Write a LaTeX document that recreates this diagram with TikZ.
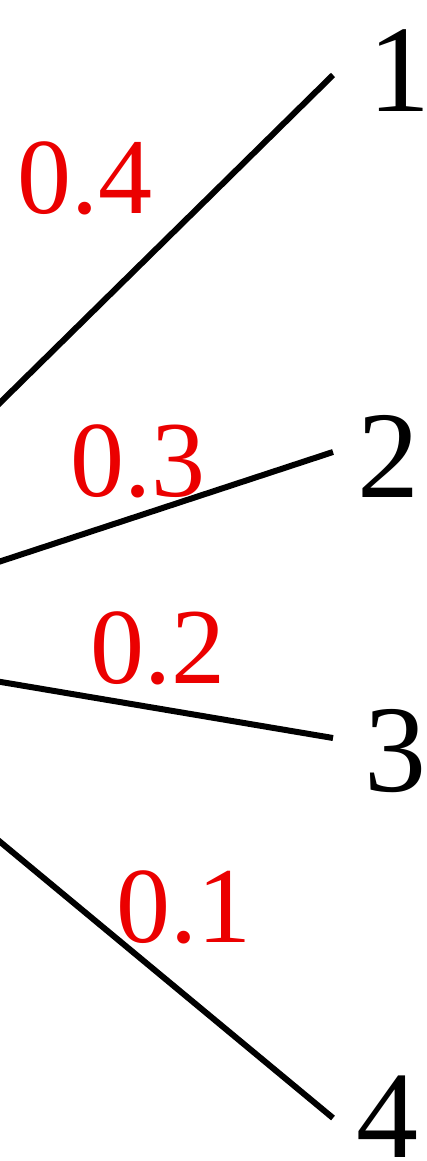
\documentclass[tikz,border=0pt]{standalone}
\usepackage{fontspec}
\setmainfont{Liberation Serif}
\definecolor{problabel}{RGB}{235,0,0}
\begin{document}
\begin{tikzpicture}[x=1pt,y=-1pt,
  branch/.style={line width=6pt,black},
  outcome/.style={anchor=base,inner sep=0pt,font=\fontsize{124}{124}\selectfont},
  prob/.style={anchor=base,inner sep=0pt,text=problabel,font=\fontsize{108}{108}\selectfont}]
\useasboundingbox (0,0) rectangle (427,1161);
\clip (0,0) rectangle (427,1161);
\fill[white] (0,0) rectangle (427,1161);
\coordinate (root) at (-242,641);
\coordinate (e1) at (333,75);
\coordinate (e2) at (333,452);
\coordinate (e3) at (333,738);
\coordinate (e4) at (333,1118);
\draw[branch] (root) -- (e1);
\draw[branch] (root) -- (e2);
\draw[branch] (root) -- (e3);
\draw[branch] (root) -- (e4);
\node[outcome] (n1) at (399,112) {1};
\node[outcome] (n2) at (388,497) {2};
\node[outcome] (n3) at (395,791) {3};
\node[outcome] (n4) at (387,1157) {4};
\node[prob] (p1) at (85,213) {0.4};
\node[prob] (p2) at (138,496) {0.3};
\node[prob] (p3) at (158,683) {0.2};
\node[prob] (p4) at (184,942) {0.1};
\end{tikzpicture}
\end{document}
